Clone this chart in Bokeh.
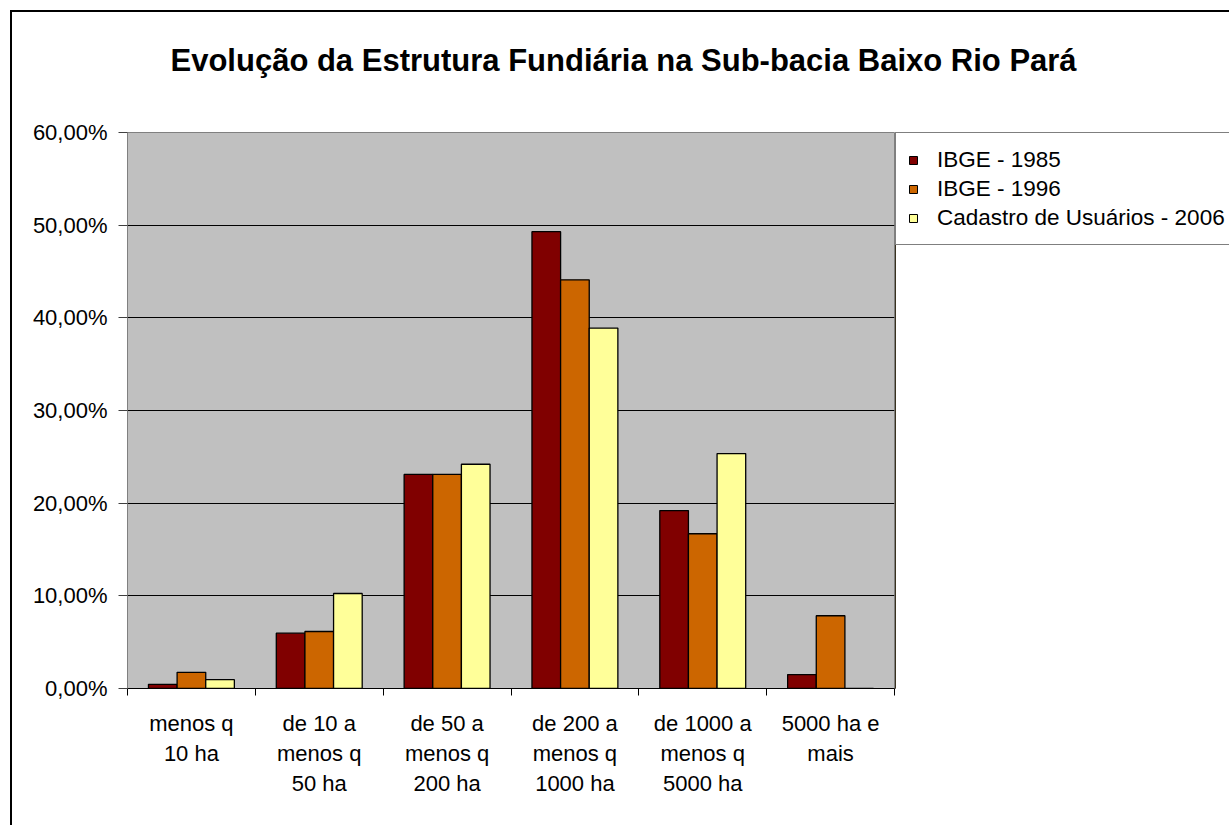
from bokeh.plotting import figure
from bokeh.models import ColumnDataSource, FixedTicker, Legend, LegendItem, Title
from bokeh.layouts import row, column
from bokeh.transform import dodge
from bokeh.embed import file_html
from bokeh.resources import INLINE

categories = ["menos q\n10 ha", "de 10 a\nmenos q\n50 ha", "de 50 a\nmenos q\n200 ha",
              "de 200 a\nmenos q\n1000 ha", "de 1000 a\nmenos q\n5000 ha", "5000 ha e\nmais"]
series_names = ["IBGE - 1985", "IBGE - 1996", "Cadastro de Usuários - 2006"]
ibge_1985 = [0.45, 5.97, 23.1, 49.3, 19.2, 1.5]
ibge_1996 = [1.75, 6.15, 23.1, 44.1, 16.7, 7.85]
cadastro_2006 = [0.95, 10.25, 24.2, 38.9, 25.35, 0.0]
y_ticks = [0, 10, 20, 30, 40, 50, 60]
y_tick_labels = ["0,00%", "10,00%", "20,00%", "30,00%", "40,00%", "50,00%", "60,00%"]
colors = ["#800000", "#CC6600", "#FFFF99"]
title_text = "Evolução da Estrutura Fundiária na Sub-bacia Baixo Rio Pará"

FONT = "Liberation Sans"
n = len(categories)
centers = [i + 0.5 for i in range(n)]
src = ColumnDataSource(dict(x=centers, a=ibge_1985, b=ibge_1996, c=cadastro_2006))

# ---- title strip ----
pt = figure(width=1217, height=100, x_range=(0, 1), y_range=(0, 1),
            x_axis_type=None, y_axis_type=None, output_backend="svg",
            toolbar_location=None, min_border=0)
pt.outline_line_color = None
pt.background_fill_color = "white"
pt.border_fill_color = "white"
pt.xgrid.visible = False
pt.ygrid.visible = False
pt.add_layout(Title(text=title_text, align="left", offset=158, text_font=FONT,
                    text_font_size="31px", text_font_style="bold",
                    text_color="black", standoff=56), "above")

# ---- main chart ----
p = figure(width=883, height=713, x_range=(0, n), y_range=(0, 60),
           output_backend="svg", toolbar_location=None,
           min_border_left=115, min_border_right=1, min_border_top=20,
           min_border_bottom=137)
p.background_fill_color = "#C0C0C0"
p.border_fill_color = "white"
p.outline_line_color = "#808080"
p.outline_line_width = 1

bw = 0.224
for off, field, col in zip([-bw, 0, bw], ["a", "b", "c"], colors):
    p.vbar(x=dodge("x", off, range=p.x_range), top=field, width=bw, source=src,
           fill_color=col, line_color="black", line_width=1.3)

p.xaxis.ticker = FixedTicker(ticks=centers, minor_ticks=list(range(n + 1)))
p.xaxis.major_label_overrides = {c: lab for c, lab in zip(centers, categories)}
p.xaxis.major_tick_out = 0
p.xaxis.major_tick_in = 0
p.xaxis.minor_tick_out = 7
p.xaxis.minor_tick_in = 0
p.xaxis.minor_tick_line_color = "black"
p.xaxis.axis_line_color = "black"
p.xaxis.major_label_text_font = FONT
p.xaxis.major_label_text_font_size = "22px"
p.xaxis.major_label_text_color = "black"
p.xaxis.major_label_text_line_height = 1.2
p.xaxis.major_label_standoff = 15

p.yaxis.ticker = FixedTicker(ticks=y_ticks, minor_ticks=[])
p.yaxis.major_label_overrides = {t: lab for t, lab in zip(y_ticks, y_tick_labels)}
p.yaxis.axis_line_color = "#808080"
p.yaxis.major_tick_out = 9
p.yaxis.major_tick_in = 0
p.yaxis.major_tick_line_color = "#404040"
p.yaxis.major_label_text_font = FONT
p.yaxis.major_label_text_font_size = "22px"
p.yaxis.major_label_text_color = "black"
p.yaxis.major_label_standoff = 11

p.xgrid.grid_line_color = None
p.ygrid.ticker = FixedTicker(ticks=y_ticks[1:-1])
p.ygrid.grid_line_color = "black"
p.ygrid.grid_line_width = 1

# ---- legend panel ----
p2 = figure(width=334, height=713, x_range=(0, 1), y_range=(0, 1),
            x_axis_type=None, y_axis_type=None, output_backend="svg",
            toolbar_location=None, min_border_left=0, min_border_top=0,
            min_border_right=0, min_border_bottom=0)
p2.outline_line_color = None
p2.background_fill_color = "white"
p2.border_fill_color = "white"
p2.xgrid.visible = False
p2.ygrid.visible = False
# legend swatches: one bar per series placed outside the visible range
leg_renderers = [p2.vbar(x=[-10], top=[1], width=0.1, fill_color=col, line_color="black")
                 for col in colors]
legend = Legend(items=[LegendItem(label=nm, renderers=[r]) for nm, r in zip(series_names, leg_renderers)],
                location="top_left", margin=0, padding=12, spacing=0, label_height=29,
                glyph_height=10, glyph_width=10, label_standoff=19,
                label_text_font=FONT, label_text_font_size="22.5px",
                label_text_color="black",
                border_line_color="black", border_line_width=1,
                background_fill_color="white", background_fill_alpha=1.0)
p2.add_layout(legend, "center")

layout = column(pt, row(p, p2, spacing=0), spacing=0)
layout.styles = {"margin-left": "10px", "margin-top": "10px",
                 "border-left": "2px solid black", "border-top": "2px solid black"}

open("out.html", "w").write(file_html(layout, INLINE))
